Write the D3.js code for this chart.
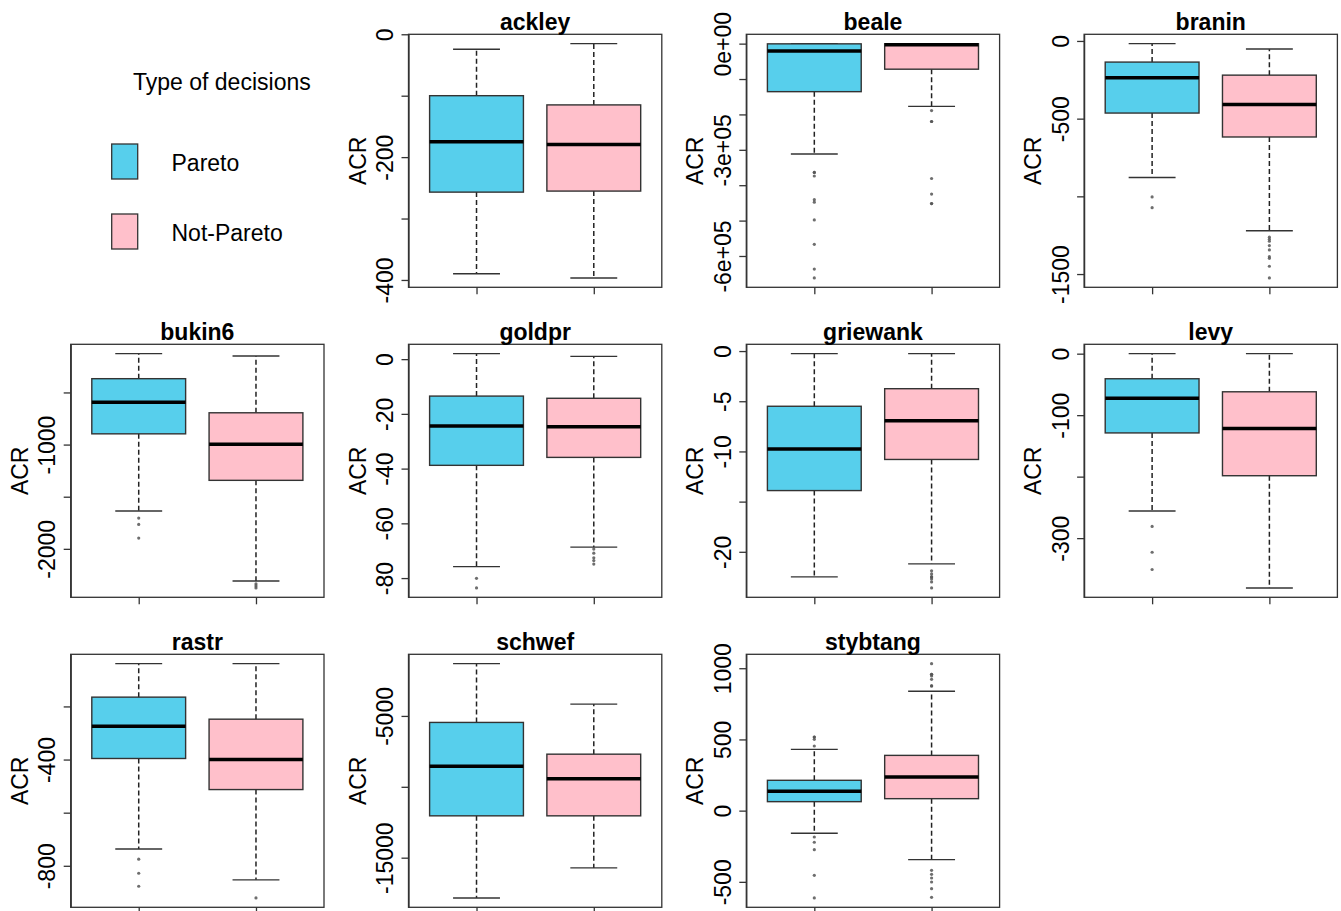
<!DOCTYPE html>
<html><head><meta charset="utf-8">
<script src="https://cdn.jsdelivr.net/npm/d3@7"></script>
<style>
body{margin:0;background:#fff}
svg{display:block}
text{font-family:"Liberation Sans",Arial,sans-serif;fill:#000}
</style>
</head><body>
<svg id="chart" width="1341" height="911"></svg>
<script>
const panelNames = ["ackley","beale","branin","bukin6","goldpr","griewank","levy","rastr","schwef","stybtang"];
const groupNames = ["Pareto","Not-Pareto"];
const groupColors = ["#57CFEC","#FFC0CB"];
const yLabel = "ACR";
const legendTitle = "Type of decisions";

// [lower whisker, Q1, median, Q3, upper whisker]
const paretoStats = [
  [-390,-257,-175,-100,-24.5],
  [-312000,-135700,-21000,-600,-200],
  [-879,-464,-237,-136,-17.5],
  [-1637,-897,-593,-368,-128],
  [-75.8,-38.8,-24.4,-13.5,2.0],
  [-22.5,-13.9,-9.77,-5.5,-0.26],
  [-256,-128.9,-72.4,-40.8,0],
  [-737,-396,-275,-165,-39],
  [-17839,-12048,-8545,-5459,-1314],
  [-159,63,136,213,430]
];
const notParetoStats = [
  [-396.7,-255.3,-179.6,-115,-15.3],
  [-177400,-72200,-3500,-300,-100],
  [-1221,-618,-409,-220,-52],
  [-2308,-1343,-997,-695,-151],
  [-68.7,-35.9,-24.7,-14.3,1.0],
  [-21.2,-10.8,-6.94,-3.75,-0.26],
  [-381,-198.5,-121.9,-62,0],
  [-853,-513,-400,-248,-39],
  [-15720,-12048,-9435,-7698,-4167],
  [-344,84,237,388,838]
];
const paretoOutliers = [
  [],
  [-364000,-364000,-374000,-441000,-448000,-498000,-567000,-637000,-662000],
  [-1004,-1073],
  [-1705,-1766,-1897],
  [-80.1,-83.6],
  [],
  [-281,-323,-351],
  [-775,-828,-877],
  [],
  [517,517,501,454,-185,-222,-274,-454,-613]
];
const notParetoOutliers = [
  [],
  [-189000,-220000,-220000,-381000,-425000,-452000,-452000],
  [-1263,-1276,-1289,-1317,-1345,-1388,-1399,-1450,-1525],
  [-2337,-2356,-2375],
  [-69.4,-70.9,-72.6,-73.6,-74.9],
  [-21.9,-22.2,-22.5,-22.5,-22.7,-23.0,-23.6],
  [],
  [-921],
  [],
  [1032,957,957,946,922,876,876,-419,-447,-473,-501,-548,-609]
];
const tickValues = [
  [0,-100,-200,-300,-400],
  [0,-100000,-200000,-300000,-400000,-500000,-600000],
  [0,-500,-1000,-1500],
  [-500,-1000,-1500,-2000],
  [0,-20,-40,-60,-80],
  [0,-5,-10,-15,-20],
  [0,-100,-200,-300],
  [-200,-400,-600,-800],
  [-5000,-10000,-15000],
  [1000,500,0,-500]
];
const tickLabels = [
  ["0","","-200","","-400"],
  ["0e+00","","","-3e+05","","","-6e+05"],
  ["0","-500","","-1500"],
  ["","-1000","","-2000"],
  ["0","-20","-40","-60","-80"],
  ["0","-5","-10","","-20"],
  ["0","-100","","-300"],
  ["","-400","","-800"],
  ["-5000","","-15000"],
  ["1000","500","0","-500"]
];

const svg = d3.select("#chart");
const FS = 23;
const colStart = 70.7, colStep = 337.8, panelW = 253.3;
const rowStart = 34.3, rowStep = 310, panelH = 253;
const edge = "#333";

panelNames.forEach((name, i) => {
  const cell = i + 1;
  const row = Math.floor(cell / 4), col = cell % 4;
  const left = colStart + col * colStep, top = rowStart + row * rowStep;
  const g = svg.append("g").attr("transform", `translate(${left},${top})`);

  const statsList = [paretoStats[i], notParetoStats[i]];
  const outList = [paretoOutliers[i], notParetoOutliers[i]];
  const allVals = statsList.flat().concat(outList.flat());
  let lo = d3.min(allVals), hi = d3.max(allVals);
  const r = hi - lo;
  const y = d3.scaleLinear().domain([lo - 0.04 * r, hi + 0.04 * r]).range([panelH, 0]);
  const x = d3.scaleLinear().domain([0.42, 2.58]).range([0, panelW]);

  statsList.forEach((s, k) => {
    const cx = x(k + 1);
    const bw = x(k + 1.4) - cx, cw = x(k + 1.2) - cx;
    const [wl, q1, med, q3, wh] = s;
    g.append("line").attr("x1", cx).attr("x2", cx).attr("y1", y(q3)).attr("y2", y(wh))
      .attr("stroke", "#222").attr("stroke-width", 1.5).attr("stroke-dasharray", "5,3");
    g.append("line").attr("x1", cx).attr("x2", cx).attr("y1", y(q1)).attr("y2", y(wl))
      .attr("stroke", "#222").attr("stroke-width", 1.5).attr("stroke-dasharray", "5,3");
    g.append("line").attr("x1", cx - cw).attr("x2", cx + cw).attr("y1", y(wh)).attr("y2", y(wh))
      .attr("stroke", edge).attr("stroke-width", 1.4);
    g.append("line").attr("x1", cx - cw).attr("x2", cx + cw).attr("y1", y(wl)).attr("y2", y(wl))
      .attr("stroke", edge).attr("stroke-width", 1.4);
    g.append("rect").attr("x", cx - bw).attr("width", 2 * bw)
      .attr("y", y(q3)).attr("height", y(q1) - y(q3))
      .attr("fill", groupColors[k]).attr("stroke", edge).attr("stroke-width", 1.4);
    g.append("line").attr("x1", cx - bw).attr("x2", cx + bw).attr("y1", y(med)).attr("y2", y(med))
      .attr("stroke", "#000").attr("stroke-width", 3.5);
    g.selectAll(null).data(outList[k]).enter().append("circle")
      .attr("cx", cx).attr("cy", d => y(d)).attr("r", 1.6)
      .attr("fill", "#555").attr("fill-opacity", 0.85).attr("stroke", "none");
  });

  g.append("rect").attr("width", panelW).attr("height", panelH)
    .attr("fill", "none").attr("stroke", edge).attr("stroke-width", 1.3);

  const ya = g.append("g").call(d3.axisLeft(y).tickValues(tickValues[i])
      .tickFormat((d, j) => tickLabels[i][j]).tickSize(7).tickSizeOuter(0));
  ya.select(".domain").attr("stroke", edge).attr("stroke-width", 1.3);
  ya.selectAll(".tick line").attr("stroke", edge).attr("stroke-width", 1.3);
  ya.selectAll(".tick text").attr("transform", "rotate(-90)")
    .attr("x", 0).attr("y", -15.5).attr("dy", 0).attr("text-anchor", "middle")
    .style("font-size", FS + "px").style("font-family", '"Liberation Sans",Arial,sans-serif').attr("fill", "#000");

  const xa = g.append("g").attr("transform", `translate(0,${panelH})`)
    .call(d3.axisBottom(x).tickValues([1, 2]).tickFormat("").tickSize(7).tickSizeOuter(0));
  xa.select(".domain").remove();
  xa.selectAll(".tick line").attr("stroke", edge).attr("stroke-width", 1.3);

  g.append("text").attr("transform", `translate(${-43},${panelH / 2}) rotate(-90)`)
    .attr("text-anchor", "middle").style("font-size", FS + "px").text(yLabel);

  g.append("text").attr("x", panelW / 2).attr("y", -4.5).attr("text-anchor", "middle")
    .style("font-size", FS + "px").style("font-weight", "bold").text(name);
});

const lg = svg.append("g");
lg.append("text").attr("x", 133).attr("y", 90).style("font-size", FS + "px").text(legendTitle);
groupNames.forEach((n, k) => {
  const yy = 144 + k * 70;
  lg.append("rect").attr("x", 111.7).attr("y", yy).attr("width", 26).attr("height", 35)
    .attr("fill", groupColors[k]).attr("stroke", edge).attr("stroke-width", 1.3);
  lg.append("text").attr("x", 171.5).attr("y", yy + 27).style("font-size", FS + "px").text(n);
});
</script>
</body></html>
